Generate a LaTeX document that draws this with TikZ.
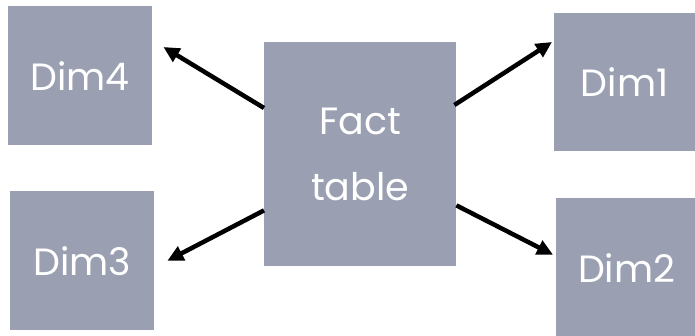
\documentclass[tikz,border=0pt]{standalone}
\usepackage{fontspec}
\setmainfont{Poppins}
\usetikzlibrary{arrows.meta}
\definecolor{boxgrey}{RGB}{154,160,178}
\tikzset{
  box/.style={fill=boxgrey, draw=none, inner sep=0pt, anchor=north west,
    text=white, font=\fontsize{38}{66}\selectfont, align=center},
  link/.style={line width=4.5pt, -{Triangle[length=16pt,width=15pt]}, black}
}
\begin{document}
\begin{tikzpicture}[x=1pt,y=-1pt]
\useasboundingbox (0,0) rectangle (695,335);
\node[box, minimum width=144pt, minimum height=139pt] (dim4) at (8,6) {Dim4};
\node[box, minimum width=144pt, minimum height=139pt] (dim3) at (10,191) {Dim3};
\node[box, minimum width=192pt, minimum height=224pt] (fact) at (264,42) {Fact\\table};
\node[box, minimum width=141pt, minimum height=138pt] (dim1) at (554,13) {Dim1};
\node[box, minimum width=141pt, minimum height=139pt] (dim2) at (556,198) {Dim2};
\draw[link] ([yshift=-66pt]fact.north west) -- ([xshift=11pt,yshift=-41pt]dim4.north east);
\draw[link] ([yshift=56pt]fact.south west) -- ([xshift=13pt]dim3.east);
\draw[link] ([xshift=-2pt,yshift=-63pt]fact.north east) -- ([xshift=-2pt,yshift=-29pt]dim1.north west);
\draw[link] ([yshift=61pt]fact.south east) -- ([xshift=-3pt,yshift=13pt]dim2.west);
\end{tikzpicture}
\end{document}
